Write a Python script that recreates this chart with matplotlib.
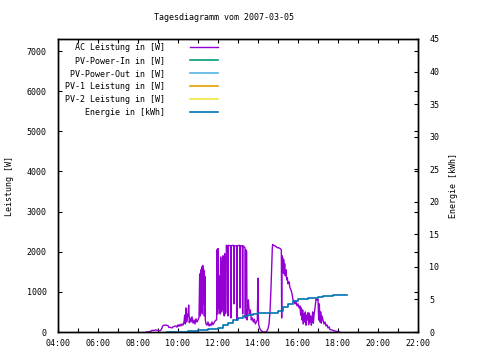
import matplotlib
matplotlib.use("Agg")
import matplotlib.pyplot as plt
from matplotlib.ticker import MultipleLocator, FuncFormatter

title = "Tagesdiagramm vom 2007-03-05"

# AC Leistung [W] over the day
ac_time = [
    "08:24", "08:30", "08:36", "08:42", "08:48", "08:54", "09:00", "09:06", "09:10", "09:14",
    "09:18", "09:24", "09:30", "09:33", "09:36", "09:42", "09:45", "09:50", "09:54", "09:57",
    "10:00", "10:03", "10:06", "10:09", "10:12", "10:15", "10:18", "10:20", "10:22", "10:24",
    "10:26", "10:28", "10:30", "10:32", "10:34", "10:36", "10:39", "10:42", "10:45", "10:48",
    "10:51", "10:54", "10:57", "11:00", "11:03",
    "11:05", "11:06", "11:07", "11:08", "11:09", "11:10", "11:11", "11:12", "11:13", "11:14",
    "11:15", "11:16", "11:17", "11:18", "11:19", "11:20", "11:21", "11:22", "11:24", "11:27",
    "11:30", "11:33", "11:36", "11:39", "11:42", "11:45", "11:48", "11:51", "11:54",
    "11:56", "11:57", "11:58", "11:59", "12:00", "12:01", "12:02", "12:03", "12:04", "12:05",
    "12:07", "12:08", "12:09", "12:10", "12:13", "12:14", "12:15", "12:16", "12:19", "12:20",
    "12:21", "12:22", "12:24", "12:25", "12:29", "12:30", "12:31", "12:38", "12:39", "12:40",
    "12:47", "12:48", "12:49", "12:56", "12:57", "12:58", "13:05", "13:06", "13:07", "13:13",
    "13:14", "13:15", "13:21", "13:22", "13:23", "13:26", "13:27", "13:29", "13:31",
    "13:34", "13:37", "13:40", "13:43", "13:46", "13:49", "13:52", "13:55", "13:58", "14:00",
    "14:01", "14:02", "14:04", "14:06", "14:09", "14:12", "14:15", "14:20", "14:25", "14:30",
    "14:33", "14:36", "14:39", "14:42", "14:43", "14:44", "14:46", "14:50", "14:54", "14:58",
    "15:02", "15:06", "15:10", "15:11", "15:12", "15:13", "15:14",
    "15:16", "15:17", "15:18", "15:20", "15:22", "15:24", "15:26", "15:28", "15:30", "15:33",
    "15:36", "15:39", "15:42", "15:45", "15:48", "15:51", "15:54", "15:57", "16:00", "16:03",
    "16:06", "16:08", "16:10", "16:12", "16:14", "16:16", "16:18", "16:20", "16:22", "16:24",
    "16:26", "16:28", "16:30", "16:32", "16:34", "16:36", "16:38", "16:40", "16:42", "16:44",
    "16:46", "16:48", "16:51", "16:54", "16:57", "17:00", "17:02", "17:04", "17:06", "17:08",
    "17:10", "17:12", "17:15", "17:18", "17:21", "17:24", "17:27", "17:30", "17:33", "17:36",
    "17:42", "17:48", "17:54", "18:00", "18:05",
]
ac_power = [
    0, 0, 10, 40, 40, 50, 40, 30, 60, 150,
    170, 170, 160, 110, 120, 100, 130, 140, 150, 120,
    180, 140, 190, 150, 200, 170, 250, 420, 200, 600,
    250, 440, 380, 670, 230, 350, 250, 380, 220, 300,
    200, 330, 250, 300, 360,
    1400, 1450, 400, 1500, 1550, 500, 1620, 1600, 450, 1660,
    1600, 700, 1550, 1500, 400, 1400, 1350, 300, 200, 170,
    250, 150, 200, 160, 250, 180, 230, 270, 300,
    300, 2050, 1900, 450, 2080, 1800, 600, 1400, 1350, 500,
    450, 1870, 1700, 500, 600, 1870, 1900, 500, 400, 1950,
    1750, 450, 500, 2160, 2150, 400, 2160, 2150, 350, 2150,
    2160, 700, 2140, 2150, 300, 2150, 2160, 600, 2140, 2150,
    450, 2150, 2100, 350, 2050, 2000, 300, 600, 800,
    450, 550, 300, 350, 250, 320, 200, 250, 300, 1340,
    400, 200, 120, 80, 40, 20, 0, 0, 0, 80,
    200, 500, 1100, 1900, 2100, 2180, 2160, 2150, 2130, 2100,
    2100, 2080, 2050, 350, 1900, 1500, 1850,
    1600, 1800, 1450, 1700, 1400, 1550, 1300, 1350, 1200, 1250,
    1100, 1050, 950, 800, 780, 700, 760, 650, 700, 600,
    650, 420, 600, 300, 550, 200, 450, 250, 500, 170,
    420, 300, 480, 180, 470, 250, 400, 170, 300, 500,
    220, 420, 600, 820, 800, 820, 300, 700, 250, 500,
    220, 400, 300, 200, 250, 150, 180, 100, 130, 60,
    50, 30, 20, 10, 0,
]

# Energie [kWh] (cumulative)
en_time = [
    "09:27", "10:00", "10:30", "11:00", "11:30", "12:00", "12:15", "12:30", "12:45", "13:00",
    "13:15", "13:30", "13:45", "14:00", "14:45", "15:00", "15:15", "15:30", "15:45", "16:00",
    "16:30", "17:00", "17:15", "17:30", "17:45", "18:27",
]
en_value = [
    0.0, 0.05, 0.15, 0.3, 0.45, 0.65, 1.0, 1.4, 1.8, 2.1,
    2.4, 2.6, 2.75, 2.85, 2.85, 3.3, 3.8, 4.3, 4.8, 5.0,
    5.2, 5.4, 5.55, 5.6, 5.7, 5.7,
]

labels = ["AC Leistung in [W]", "PV-Power-In in [W]", "PV-Power-Out in [W]",
          "PV-1 Leistung in [W]", "PV-2 Leistung in [W]", "Energie in [kWh]"]
colors = ["#9400d3", "#009e73", "#56b4e9", "#e69f00", "#f0e442", "#0072b2"]


def to_hours(t):
    h, m = t.split(":")
    return int(h) + int(m) / 60


mono = "DejaVu Sans Mono"
fs = 6

fig = plt.figure(figsize=(4.8, 3.6), dpi=100)
ax = fig.add_axes([58 / 480, 1 - 332 / 360, 360 / 480, 293 / 360])
ax2 = ax.twinx()

handles = []
h, = ax.plot([to_hours(t) for t in ac_time], ac_power, color=colors[0], lw=1.0)
handles.append(h)
for c in colors[1:5]:
    h, = ax.plot([], [], color=c, lw=1.2)
    handles.append(h)
h, = ax2.plot([to_hours(t) for t in en_time], en_value, color=colors[5], lw=1.2,
              drawstyle="steps-post")
handles.append(h)

ax.set_xlim(4, 22)
ax.set_ylim(0, 7300)
ax2.set_ylim(0, 45)

ax.xaxis.set_major_locator(MultipleLocator(2))
ax.xaxis.set_minor_locator(MultipleLocator(1))
ax.xaxis.set_major_formatter(FuncFormatter(lambda v, p: "%02d:00" % int(round(v))))
ax.yaxis.set_major_locator(MultipleLocator(1000))
ax2.yaxis.set_major_locator(MultipleLocator(5))

ax.tick_params(axis="both", which="both", direction="in", length=3, width=0.8,
               labelsize=fs, top=True)
ax.tick_params(axis="y", pad=8, right=True)
ax.tick_params(axis="x", pad=5)
ax2.tick_params(direction="in", length=3, width=0.8, labelsize=fs, pad=8)
for a in (ax, ax2):
    for lab in a.get_xticklabels() + a.get_yticklabels():
        lab.set_fontfamily(mono)
    for s in a.spines.values():
        s.set_linewidth(1.0)

ax.set_ylabel("Leistung [W]", fontsize=fs, family=mono, labelpad=9.5)
ax2.set_ylabel("Energie [kWh]", fontsize=fs, family=mono, rotation=90, labelpad=7)
fig.text(223.5 / 480, 1 - 18 / 360, title, fontsize=fs, family=mono,
         ha="center", va="center")

leg = ax.legend(handles, labels, loc="upper left", markerfirst=False, frameon=False,
                prop={"family": mono, "size": fs}, handlelength=3.4, handletextpad=3.0,
                labelspacing=0.48, borderpad=0, borderaxespad=0,
                bbox_to_anchor=(65 / 480, 1 - 43 / 360), bbox_transform=fig.transFigure)

fig.savefig("out.png", dpi=100)
